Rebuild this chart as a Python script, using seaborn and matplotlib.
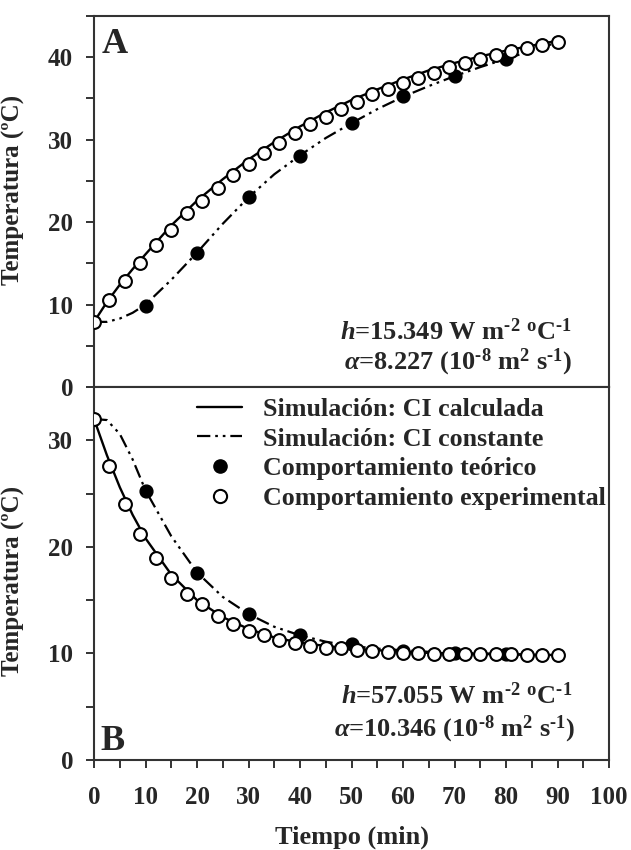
import numpy as np
import pandas as pd
import seaborn as sns
import matplotlib.pyplot as plt
from matplotlib.lines import Line2D
from matplotlib.ticker import MultipleLocator

# data
# panel A (heating)
t_exp = [0, 3, 6, 9, 12, 15, 18, 21, 24, 27, 30, 33, 36, 39, 42, 45,
         48, 51, 54, 57, 60, 63, 66, 69, 72, 75, 78, 81, 84, 87, 90]
a_exp = [7.9, 10.5, 12.8, 15.1, 17.2, 19.1, 21.1, 22.6, 24.1, 25.7, 27.1, 28.4,
         29.6, 30.8, 31.9, 32.8, 33.7, 34.6, 35.5, 36.2, 36.9, 37.5, 38.1, 38.8,
         39.3, 39.8, 40.3, 40.8, 41.1, 41.5, 41.9]
t_teo = [10, 20, 30, 40, 50, 60, 70, 80]
a_teo = [9.8, 16.2, 23.1, 28.0, 32.0, 35.3, 37.7, 39.8]

t_sim = [0, 2.5, 5, 7.5, 10, 15, 20, 25, 30, 35, 40, 45, 50, 55, 60, 65, 70, 75, 80, 85, 90]
a_calc = [7.9, 10.3, 12.4, 14.3, 16.1, 19.6, 22.6, 25.2, 27.6, 29.7, 31.6, 33.3,
          34.8, 36.1, 37.3, 38.4, 39.3, 40.1, 40.8, 41.4, 42.0]
a_const = [7.9, 7.9, 8.3, 9.0, 10.0, 13.0, 16.3, 19.8, 23.0, 25.8, 28.1, 30.2,
           32.0, 33.7, 35.2, 36.5, 37.7, 38.8, 39.8, 40.8, 41.8]

# panel B (cooling)
b_exp = [32.0, 27.6, 24.0, 21.2, 19.0, 17.1, 15.6, 14.6, 13.5, 12.8, 12.1, 11.7,
         11.25, 11.0, 10.7, 10.55, 10.5, 10.3, 10.2, 10.1, 10.05, 10.0, 9.95, 9.95,
         9.9, 9.9, 9.9, 9.9, 9.85, 9.85, 9.85]
b_teo = [25.2, 17.5, 13.7, 11.7, 10.9, 10.25, 10.0, 9.95]
b_calc = [32.0, 28.6, 25.6, 23.0, 20.8, 17.4, 15.0, 13.4, 12.3, 11.5, 11.0, 10.7,
          10.45, 10.3, 10.15, 10.05, 10.0, 9.95, 9.9, 9.87, 9.85]
b_const = [32.0, 31.9, 30.6, 28.2, 25.3, 21.0, 17.6, 15.3, 13.7, 12.5, 11.7, 11.1,
           10.7, 10.45, 10.3, 10.15, 10.05, 10.0, 9.95, 9.9, 9.85]

labels = ['Simulación: CI calculada', 'Simulación: CI constante',
          'Comportamiento teórico', 'Comportamiento experimental']

sns.set_style('ticks')
plt.rcParams['font.family'] = ['Liberation Serif', 'DejaVu Serif']
plt.rcParams['font.weight'] = 'bold'
plt.rcParams['mathtext.fontset'] = 'custom'
plt.rcParams['mathtext.rm'] = 'Liberation Serif:bold'
plt.rcParams['mathtext.it'] = 'Liberation Serif:bold:italic'
plt.rcParams['mathtext.bf'] = 'Liberation Serif:bold'
plt.rcParams['mathtext.default'] = 'regular'

dash_dot = (0, (6, 2.2, 1.2, 2.2, 1.2, 2.2))
spine_col = '#333333'

fig = plt.figure(figsize=(6.31, 8.5), dpi=100)
ax_a = fig.add_axes([0.149, 0.5447, 0.8162, 0.4365])
ax_b = fig.add_axes([0.149, 0.1059, 0.8162, 0.4388])


def draw_panel(ax, calc, const, teo, exp):
    sim = pd.DataFrame({'t': t_sim, 'calc': calc, 'const': const})
    sns.lineplot(data=sim, x='t', y='calc', ax=ax, color='black', lw=1.7)
    sns.lineplot(data=sim, x='t', y='const', ax=ax, color='black', lw=1.6,
                 linestyle=dash_dot)
    sns.scatterplot(x=t_teo, y=teo, ax=ax, color='black', s=85, marker='o',
                    edgecolor='black', linewidth=1.0, zorder=3)
    sns.scatterplot(x=t_exp, y=exp, ax=ax, facecolor='white', s=85, marker='o',
                    edgecolor='black', linewidth=1.5, zorder=4)
    ax.set_xlim(0, 100)
    ax.xaxis.set_major_locator(MultipleLocator(10))
    ax.xaxis.set_minor_locator(MultipleLocator(5))
    ax.yaxis.set_major_locator(MultipleLocator(10))
    ax.yaxis.set_minor_locator(MultipleLocator(5))
    ax.tick_params(which='both', direction='out', width=1.4, color=spine_col,
                   labelsize=18, pad=9, length=6)
    ax.tick_params(axis='x', pad=13)
    for sp in ax.spines.values():
        sp.set_linewidth(1.5)
        sp.set_color(spine_col)
    ax.set_ylabel('Temperatura (ºC)', fontsize=18, fontweight='bold')


draw_panel(ax_a, a_calc, a_const, a_teo, a_exp)
draw_panel(ax_b, b_calc, b_const, b_teo, b_exp)

ax_a.set_ylim(0, 45)
ax_b.set_ylim(0, 35)
ax_a.tick_params(axis='x', which='both', bottom=False, labelbottom=False)
ax_a.set_xlabel('')
ax_b.set_xlabel('Tiempo (min)', fontsize=19, fontweight='bold', labelpad=12)
ax_a.yaxis.set_label_coords(-0.134, 0.53)
ax_b.yaxis.set_label_coords(-0.134, 0.48)

# panel letters
ax_a.text(0.015, 0.90, 'A', transform=ax_a.transAxes, fontsize=26,
          fontweight='bold', va='baseline', ha='left')
ax_b.text(0.012, 0.027, 'B', transform=ax_b.transAxes, fontsize=26,
          fontweight='bold', va='baseline', ha='left')

# parameter annotations
ax_a.text(0.928, 0.127, r'$\mathit{h}$=15.349 W m$^{‐2}$ $^{o}$C$^{‐1}$',
          transform=ax_a.transAxes, ha='right', va='baseline', fontsize=19)
ax_a.text(0.928, 0.046, r'$\mathit{α}$=8.227 (10$^{‐8}$ m$^{2}$ s$^{‐1}$)',
          transform=ax_a.transAxes, ha='right', va='baseline', fontsize=19)
ax_b.text(0.928, 0.150, r'$\mathit{h}$=57.055 W m$^{‐2}$ $^{o}$C$^{‐1}$',
          transform=ax_b.transAxes, ha='right', va='baseline', fontsize=19)
ax_b.text(0.935, 0.064, r'$\mathit{α}$=10.346 (10$^{‐8}$ m$^{2}$ s$^{‐1}$)',
          transform=ax_b.transAxes, ha='right', va='baseline', fontsize=19)

handles = [
    Line2D([], [], color='black', lw=1.7),
    Line2D([], [], color='black', lw=1.6, linestyle=dash_dot),
    Line2D([], [], color='black', marker='o', markersize=9.5, linestyle='none'),
    Line2D([], [], markerfacecolor='white', markeredgecolor='black', marker='o',
           markersize=9.5, markeredgewidth=1.5, linestyle='none'),
]
ax_b.legend(handles, labels, loc='upper left', bbox_to_anchor=(0.2, 0.972),
            frameon=False, fontsize=18.7, handlelength=1.75, handletextpad=0.8,
            labelspacing=0.26, borderpad=0, borderaxespad=0)

fig.savefig('out.png', dpi=100)
